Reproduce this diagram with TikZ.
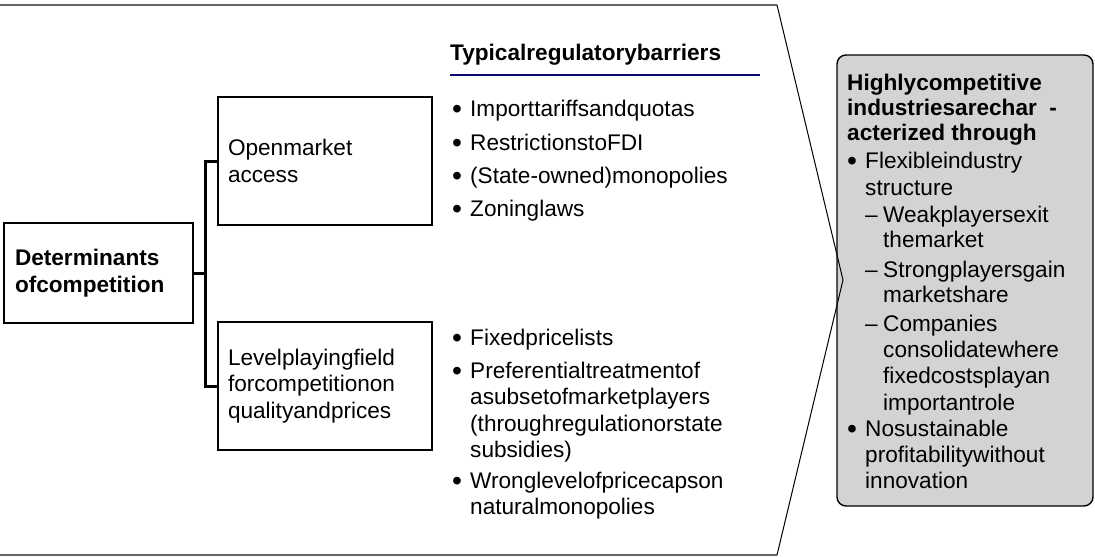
\documentclass[tikz,border=0pt]{standalone}
\usepackage{fontspec}
\setmainfont{Liberation Sans}
\definecolor{boxgray}{RGB}{211,211,211}
\definecolor{rulegray}{RGB}{100,100,100}
\definecolor{navyline}{RGB}{10,10,110}
\newcommand{\bul}{\makebox[18pt][l]{\raisebox{-2pt}{\scalebox{1.25}{•}}}}
\newcommand{\dsh}{\makebox[18pt][l]{–}}
\newcommand{\ind}{\hspace*{18pt}}
\begin{document}
\begin{tikzpicture}[x=1pt,y=-1pt,
  txt/.style={font=\fontsize{22.6}{26.6}\selectfont, inner sep=0pt, anchor=base west, align=left},
  bx/.style={draw, line width=1.4pt, inner xsep=10pt, align=left, font=\fontsize{22.6}{26.6}\selectfont}]
\useasboundingbox (0,0) rectangle (1095,557);
% chevron frame
\coordinate (tl) at (0,5);
\coordinate (tr) at (777,5);
\coordinate (ap) at (843,280);
\coordinate (br) at (777,555);
\coordinate (bl) at (0,555);
\draw[rulegray, line width=2pt] (tl) -- (tr);
\draw[rulegray, line width=2pt] (bl) -- (br);
% result box
\node[draw, line width=1.4pt, fill=boxgray, rounded corners=9pt, minimum width=256pt, minimum height=451pt, inner sep=0pt] (res) at (965,280.5) {};
\draw[line width=1pt, line join=miter] (tr) -- (ap) -- (br);
% determinant boxes
\node[bx, text width=167pt, inner xsep=11pt, minimum height=100pt] (det) at (98.5,273) {\bfseries Determinants\\\bfseries ofcompetition};
\node[bx, text width=194pt, minimum height=128pt] (open) at (325,161) {Openmarket\\access};
\node[bx, text width=194pt, minimum height=128pt] (level) at (325,386) {Levelplayingfield\\forcompetitionon\\qualityandprices};
\draw[line width=3pt, line join=miter] (det.east) -- ++(12,0) |- (open.west);
\draw[line width=3pt, line join=miter] (det.east) -- ++(12,0) |- (level.west);
% header
\node[txt, font=\fontsize{22.6}{26.6}\selectfont\bfseries] (head) at (450,60) {Typicalregulatorybarriers};
\coordinate (ul1) at (450,75);
\coordinate (ul2) at (760,75);
\draw[navyline, line width=1.3pt] (ul1) -- (ul2);
% barriers for open market access (anchor = baseline of last line)
\node[txt] (b1) at (452,116) {\bul Importtariffsandquotas};
\node[txt] (b2) at (452,150) {\bul RestrictionstoFDI};
\node[txt] (b3) at (452,183) {\bul (State-owned)monopolies};
\node[txt] (b4) at (452,216) {\bul Zoninglaws};
% barriers for level playing field
\node[txt] (c1) at (452,345) {\bul Fixedpricelists};
\node[txt] (c2) at (452,457.8) {\bul Preferentialtreatmentof\\\ind asubsetofmarketplayers\\\ind (throughregulationorstate\\\ind subsidies)};
\node[txt] (c3) at (452,514.6) {\bul Wronglevelofpricecapson\\\ind naturalmonopolies};
% result text
\node[txt, font=\fontsize{22.6}{25}\selectfont\bfseries] (r0) at (847,140) {Highlycompetitive\\industriesarechar~~-\\acterized through};
\node[txt, font=\fontsize{22.6}{27}\selectfont] (r1) at (847,195) {\bul Flexibleindustry\\\ind structure};
\node[txt, font=\fontsize{22.6}{25}\selectfont] (r2) at (865,247) {\dsh Weakplayersexit\\\ind themarket};
\node[txt, font=\fontsize{22.6}{25}\selectfont] (r3) at (865,302) {\dsh Strongplayersgain\\\ind marketshare};
\node[txt, font=\fontsize{22.6}{26.3}\selectfont] (r4) at (865,410) {\dsh Companies\\\ind consolidatewhere\\\ind fixedcostsplayan\\\ind importantrole};
\node[txt, font=\fontsize{22.6}{26.2}\selectfont] (r5) at (847,488.4) {\bul Nosustainable\\\ind profitabilitywithout\\\ind innovation};
\end{tikzpicture}
\end{document}
